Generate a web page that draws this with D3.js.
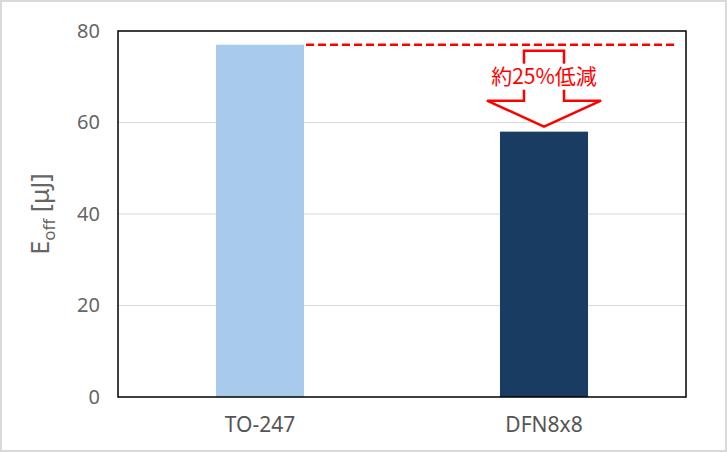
<!DOCTYPE html>
<html>
<head>
<meta charset="utf-8">
<script src="https://cdn.jsdelivr.net/npm/d3@7"></script>
<style>
  body { margin: 0; background: #fff; }
  text { font-family: "Noto Sans", "Noto Sans CJK JP", sans-serif; }
</style>
</head>
<body>
<div id="app"></div>
<script>
const categories = ['TO-247', 'DFN8x8'];
const values = [77, 58];
const barColors = ['#a9cbeb', '#183c62'];
const yTicks = [0, 20, 40, 60, 80];
const note = '約25%低減';

function render() {
  const width = 727;
  const height = 452;
  const margin = { left: 118, right: 41, top: 31, bottom: 55 };
  const innerWidth = width - margin.left - margin.right;
  const innerHeight = height - margin.top - margin.bottom;

  const svg = d3.select('#app').append('svg').attr('width', width).attr('height', height);

  // outer frame
  svg.append('rect')
    .attr('x', 1).attr('y', 1)
    .attr('width', width - 2).attr('height', height - 2)
    .attr('fill', '#fff')
    .attr('stroke', '#d9d9d9')
    .attr('stroke-width', 2);

  const g = svg.append('g').attr('transform', `translate(${margin.left}, ${margin.top})`);

  const xScale = d3.scaleBand(categories, [0, innerWidth]).paddingInner(0.69).paddingOuter(0.345);
  const yScale = d3.scaleLinear([0, 80], [innerHeight, 0]);

  // grid
  g.append('g')
    .selectAll('line')
    .data(yTicks.slice(1, -1))
    .join('line')
    .attr('x1', 0).attr('x2', innerWidth)
    .attr('y1', d => yScale(d)).attr('y2', d => yScale(d))
    .attr('stroke', '#d9d9d9')
    .attr('stroke-width', 1);

  // y tick labels
  const yAxis = d3.axisLeft(yScale).tickValues(yTicks).tickSize(0).tickPadding(18);
  const yG = g.append('g').call(yAxis);
  yG.select('.domain').remove();
  yG.selectAll('text')
    .attr('fill', '#666')
    .style('font-size', '20px');

  // x labels
  const xAxis = d3.axisBottom(xScale).tickSize(0).tickPadding(20);
  const xG = g.append('g').attr('transform', `translate(0, ${innerHeight})`).call(xAxis);
  xG.select('.domain').remove();
  xG.selectAll('text')
    .attr('fill', '#555')
    .style('font-size', '21px');

  // bars
  g.selectAll('rect.bar')
    .data(categories)
    .join('rect')
    .attr('class', 'bar')
    .attr('x', d => xScale(d))
    .attr('width', xScale.bandwidth())
    .attr('y', (d, i) => yScale(values[i]))
    .attr('height', (d, i) => innerHeight - yScale(values[i]))
    .attr('fill', (d, i) => barColors[i]);

  // plot border
  g.append('rect')
    .attr('width', innerWidth).attr('height', innerHeight)
    .attr('fill', 'none')
    .attr('stroke', '#000')
    .attr('stroke-width', 1.5);

  // y title
  const title = g.append('text')
    .attr('transform', `translate(-69, ${innerHeight / 2}) rotate(-90)`)
    .attr('text-anchor', 'middle')
    .attr('fill', '#666')
    .style('font-size', '25px');
  title.append('tspan').text('E');
  title.append('tspan').text('off').attr('dy', 6).style('font-size', '17px');
  title.append('tspan').text(' [μJ]').attr('dy', -6);

  // dashed reference line
  const refY = yScale(values[0]);
  g.append('line')
    .attr('x1', xScale(categories[0]) + xScale.bandwidth() + 2)
    .attr('x2', innerWidth - 10)
    .attr('y1', refY).attr('y2', refY)
    .attr('stroke', '#ff0000')
    .attr('stroke-width', 2.5)
    .attr('stroke-dasharray', '8,4');

  // arrow
  const cx = xScale(categories[1]) + xScale.bandwidth() / 2;
  const top = refY + 6;
  const tip = yScale(values[1]) - 5;
  const shoulder = tip - 26;
  const sw = 20, hw = 57;
  const pts = [
    [cx - sw, top], [cx + sw, top], [cx + sw, shoulder], [cx + hw, shoulder],
    [cx, tip], [cx - hw, shoulder], [cx - sw, shoulder]
  ];
  g.append('path')
    .attr('d', d3.line()(pts) + 'Z')
    .attr('fill', '#fff')
    .attr('stroke', '#ff0000')
    .attr('stroke-width', 2.5)
    .attr('stroke-linejoin', 'miter');

  const ty = (top + shoulder) / 2 + 1;
  g.append('rect')
    .attr('x', cx - 58).attr('y', ty - 13)
    .attr('width', 116).attr('height', 26)
    .attr('fill', '#fff');
  g.append('text')
    .attr('x', cx).attr('y', ty)
    .attr('dy', '0.36em')
    .attr('text-anchor', 'middle')
    .attr('fill', '#ff0000')
    .style('font-family', '"Noto Sans CJK JP", sans-serif')
    .style('font-size', '21px')
    .text(note);
}

render();
</script>
</body>
</html>
